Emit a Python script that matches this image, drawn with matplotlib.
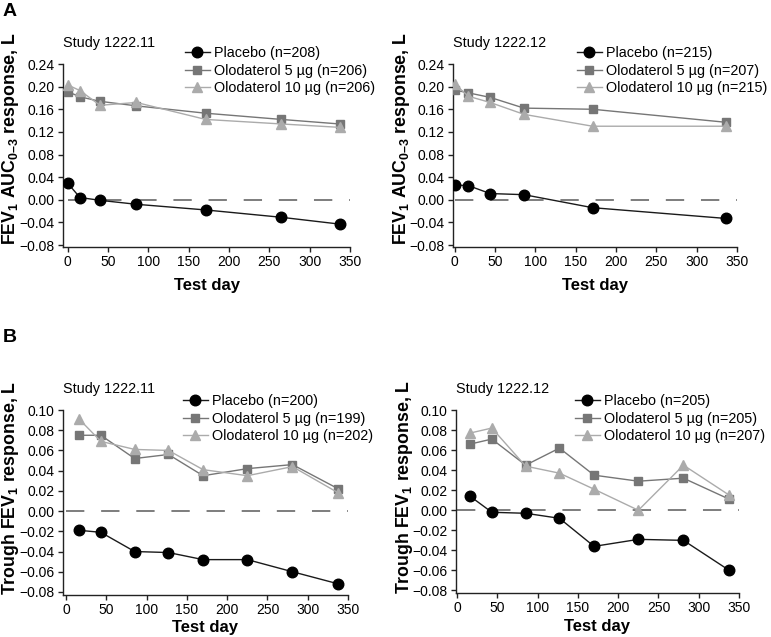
import matplotlib
matplotlib.use("Agg")
import matplotlib.pyplot as plt

plt.rcParams['font.family'] = ['Liberation Sans', 'DejaVu Sans']
plt.rcParams['mathtext.fontset'] = 'custom'
plt.rcParams['mathtext.rm'] = 'Liberation Sans'
plt.rcParams['mathtext.bf'] = 'Liberation Sans:bold'
plt.rcParams['mathtext.it'] = 'Liberation Sans:italic'

# ---------------- data ----------------
days_A11 = [0, 15, 40, 85, 171, 265, 337]
pbo_A11 = [0.029, 0.004, -0.001, -0.008, -0.018, -0.031, -0.043]
o5_A11 = [0.191, 0.182, 0.174, 0.166, 0.153, 0.142, 0.134]
o10_A11 = [0.203, 0.193, 0.167, 0.172, 0.142, 0.134, 0.128]

days_A12 = [0, 17, 44, 86, 171, 336]
pbo_A12 = [0.026, 0.025, 0.011, 0.009, -0.014, -0.033]
o5_A12 = [0.194, 0.189, 0.181, 0.162, 0.160, 0.137]
o10_A12 = [0.205, 0.183, 0.172, 0.151, 0.130, 0.130]

days_B = [16, 43, 85, 127, 170, 225, 281, 338]
pbo_B11 = [-0.019, -0.021, -0.040, -0.041, -0.048, -0.048, -0.060, -0.072]
o5_B11 = [0.075, 0.075, 0.052, 0.056, 0.035, 0.042, 0.046, 0.022]
o10_B11 = [0.091, 0.069, 0.061, 0.060, 0.041, 0.035, 0.044, 0.018]

pbo_B12 = [0.014, -0.002, -0.003, -0.008, -0.036, -0.029, -0.030, -0.060]
o5_B12 = [0.066, 0.071, 0.045, 0.062, 0.035, 0.029, 0.032, 0.011]
o10_B12 = [0.077, 0.082, 0.044, 0.037, 0.021, 0.000, 0.045, 0.015]
o10_B12_marked = [0, 1, 2, 3, 4, 5, 7]  # point at day 281 drawn without marker

labels_A11 = ["Placebo (n=208)", "Olodaterol 5 \u00b5g (n=206)", "Olodaterol 10 \u00b5g (n=206)"]
labels_A12 = ["Placebo (n=215)", "Olodaterol 5 \u00b5g (n=207)", "Olodaterol 10 \u00b5g (n=215)"]
labels_B11 = ["Placebo (n=200)", "Olodaterol 5 \u00b5g (n=199)", "Olodaterol 10 \u00b5g (n=202)"]
labels_B12 = ["Placebo (n=205)", "Olodaterol 5 \u00b5g (n=205)", "Olodaterol 10 \u00b5g (n=207)"]

yticks_A = [-0.08, -0.04, 0.00, 0.04, 0.08, 0.12, 0.16, 0.20, 0.24]
yticks_B = [-0.08, -0.06, -0.04, -0.02, 0.00, 0.02, 0.04, 0.06, 0.08, 0.10]
xticks = [0, 50, 100, 150, 200, 250, 300, 350]

ylabel_A = "$\\mathbf{FEV_1\\ AUC_{0\u20133}}$ response, L"
ylabel_B = "Trough FEV$\\mathbf{_1}$ response, L"

# ---------------- styling ----------------
W, H = 771, 637
fig = plt.figure(figsize=(W / 100, H / 100), dpi=100)

C_PBO = "#000000"
C_PBO_LINE = "#1a1a1a"
C_5 = "#767676"
C_10 = "#ababab"
TICK_FS = 10
LEG_FS = 10.4
LAB_FS = 12
YLAB_FS = 12.8


def rect(l, t, r, b):
    return [l / W, 1 - b / H, (r - l) / W, (b - t) / H]


def panel(rc, days, pbo, o5, o10, labels, yticks, ylim, xlim, title, leg_xy,
          ylabel, ylab_xy, xlabpad, mark10=None):
    ax = fig.add_axes(rect(*rc))
    ax.hlines(0, 0, 350, colors="#5a5a5a", linestyles=(0, (12, 11)), lw=1.1, zorder=1)
    h1, = ax.plot(days, pbo, color=C_PBO_LINE, lw=1.0, marker="o", ms=7.6,
                  mfc=C_PBO, mec=C_PBO, zorder=3, label=labels[0])
    h2, = ax.plot(days, o5, color=C_5, lw=1.0, marker="s", ms=6.3,
                  mfc=C_5, mec=C_5, zorder=4, label=labels[1])
    kw = {}
    if mark10 is not None:
        kw["markevery"] = mark10
    h3, = ax.plot(days, o10, color=C_10, lw=1.0, marker="^", ms=7.6,
                  mfc=C_10, mec=C_10, zorder=5, label=labels[2], **kw)
    ax.set_xlim(*xlim)
    ax.set_ylim(*ylim)
    ax.set_xticks(xticks)
    ax.set_yticks(yticks)
    ax.set_yticklabels([f"{v:.2f}".replace("-", "\u2212") for v in yticks])
    ax.tick_params(labelsize=TICK_FS, length=3.5, width=1, color="#222222", pad=2.5)
    for s in ("top", "right"):
        ax.spines[s].set_visible(False)
    for s in ("left", "bottom"):
        ax.spines[s].set_linewidth(1)
        ax.spines[s].set_color("#222222")
    ax.set_xlabel("Test day", fontsize=LAB_FS, fontweight="bold", labelpad=xlabpad)
    ax.set_ylabel(ylabel, fontsize=YLAB_FS, fontweight="bold",
                  va="center", ha="center")
    ax.yaxis.set_label_coords(*ylab_xy)
    ax.text(0, 1.115, title, transform=ax.transAxes, fontsize=LEG_FS,
            ha="left", va="center")
    ax.legend(handles=[h1, h2, h3], loc="upper left",
              bbox_to_anchor=(leg_xy[0] / W, 1 - leg_xy[1] / H),
              bbox_transform=fig.transFigure, frameon=False, fontsize=LEG_FS,
              handlelength=1.7, handletextpad=0.3, labelspacing=0.25,
              borderpad=0, borderaxespad=0, numpoints=1)
    return ax


panel((63, 64, 350, 247), days_A11, pbo_A11, o5_A11, o10_A11, labels_A11,
      yticks_A, (-0.0835, 0.24), (-6, 350), "Study 1222.11", (185, 46),
      ylabel_A, (-0.183, 0.595), 6)
panel((453, 64, 737, 247), days_A12, pbo_A12, o5_A12, o10_A12, labels_A12,
      yticks_A, (-0.0835, 0.24), (-2, 350), "Study 1222.12", (577, 46),
      ylabel_A, (-0.183, 0.595), 6)
panel((63, 410, 348, 595), days_B, pbo_B11, o5_B11, o10_B11, labels_B11,
      yticks_B, (-0.083, 0.10), (-4, 350), "Study 1222.11", (183, 394),
      ylabel_B, (-0.183, 0.58), 2)
panel((456, 410, 739, 593), days_B, pbo_B12, o5_B12, o10_B12, labels_B12,
      yticks_B, (-0.0825, 0.10), (-1.5, 350), "Study 1222.12", (575, 394),
      ylabel_B, (-0.183, 0.58), 3)

fig.text(3 / W, 1 - 11 / H, "A", fontsize=14, fontweight="bold", va="center", ha="left")
fig.text(3 / W, 1 - 337 / H, "B", fontsize=14, fontweight="bold", va="center", ha="left")

fig.savefig("out.png", dpi=100)
